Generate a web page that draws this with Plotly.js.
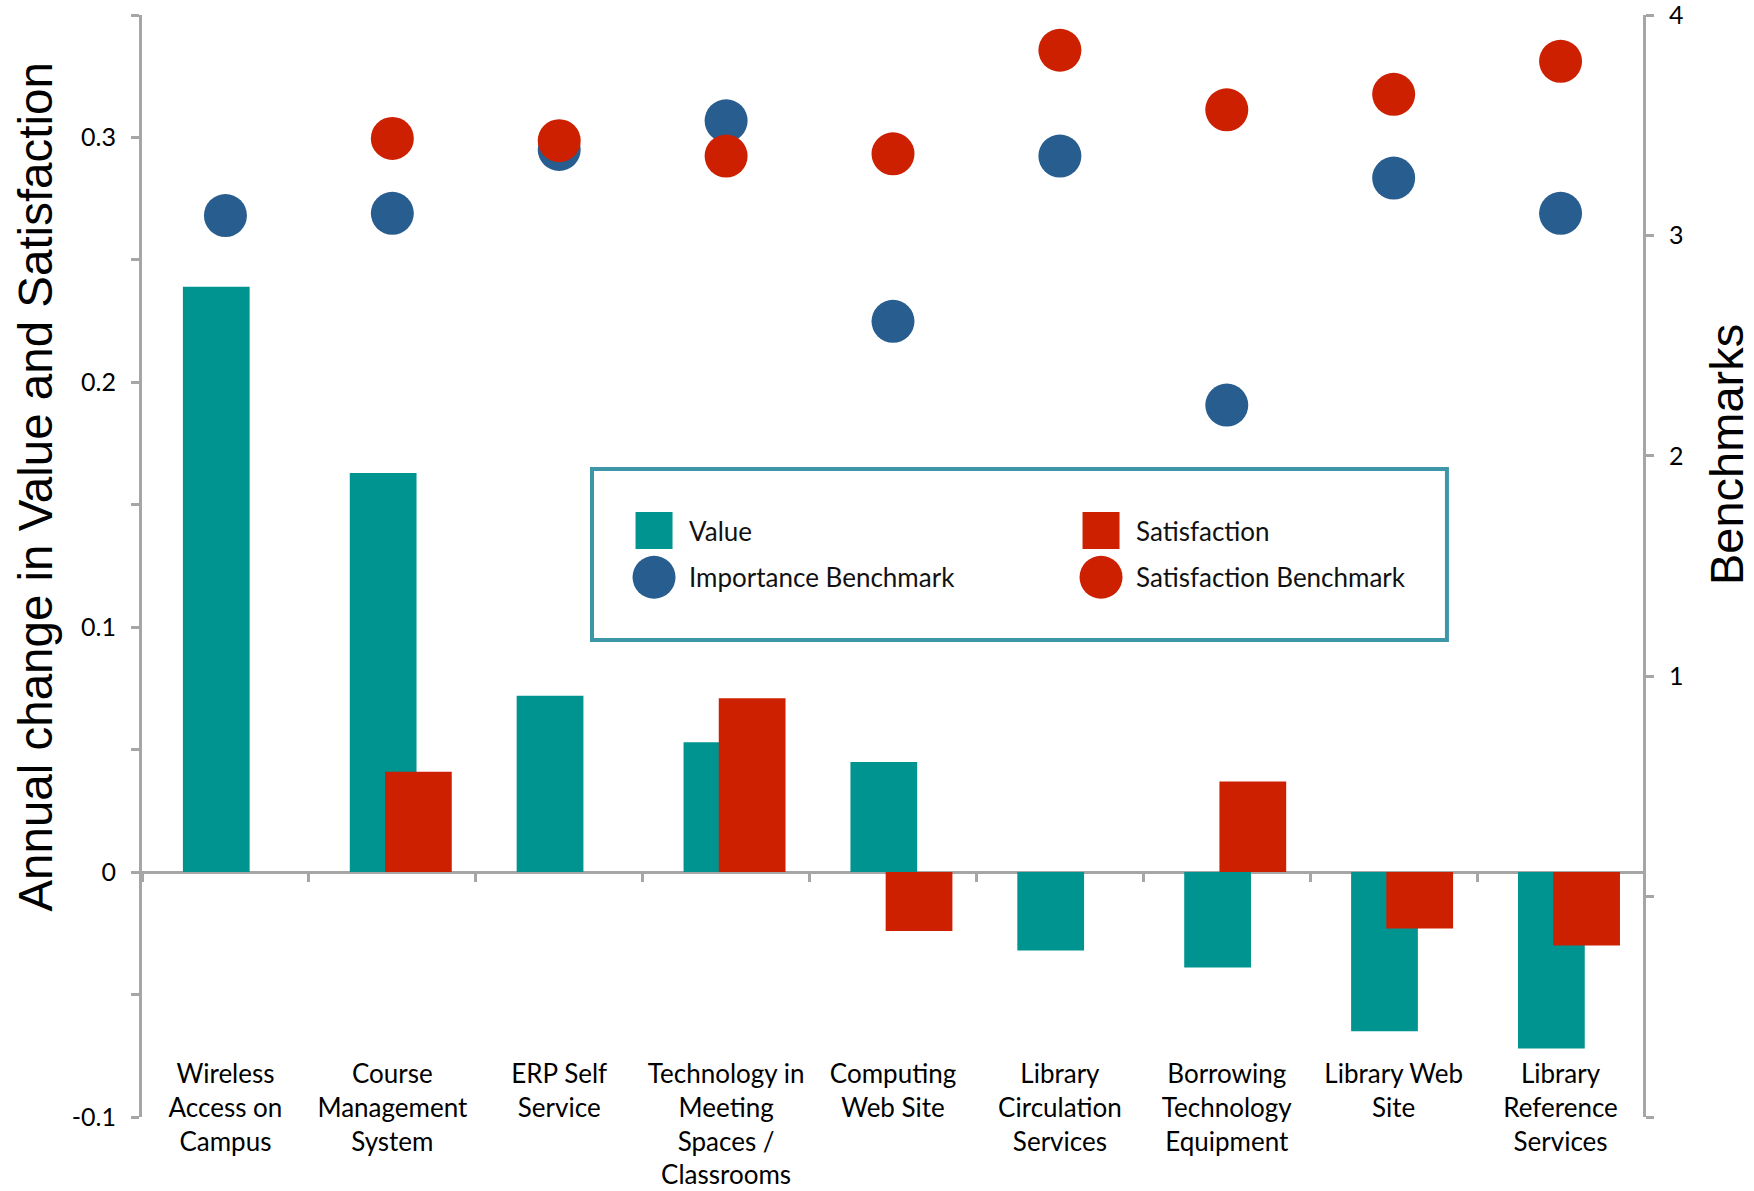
<!DOCTYPE html>
<html>
<head>
<meta charset="utf-8">
<script src="https://cdn.plot.ly/plotly-3.0.1.min.js"></script>
<style>
  html, body { margin: 0; padding: 0; background: #ffffff; }
  #chart { width: 1754px; height: 1191px; }
</style>
</head>
<body>
<div id="chart"></div>
<script>
// ---- data ----
var categories = [
  "Wireless Access on Campus",
  "Course Management System",
  "ERP Self Service",
  "Technology in Meeting Spaces / Classrooms",
  "Computing Web Site",
  "Library Circulation Services",
  "Borrowing Technology Equipment",
  "Library Web Site",
  "Library Reference Services"
];
var tickLabels = [
  "Wireless<br>Access on<br>Campus",
  "Course<br>Management<br>System",
  "ERP Self<br>Service",
  "Technology in<br>Meeting<br>Spaces /<br>Classrooms",
  "Computing<br>Web Site",
  "Library<br>Circulation<br>Services",
  "Borrowing<br>Technology<br>Equipment",
  "Library Web<br>Site",
  "Library<br>Reference<br>Services"
];
var valueChange        = [0.239, 0.163, 0.072, 0.053, 0.045, -0.032, -0.039, -0.065, -0.072];
var satisfactionChange = [null, 0.041, null, 0.071, -0.024, null, 0.037, -0.023, -0.030];
var importanceBenchmark   = [3.09, 3.10, 3.39, 3.52, 2.61, 3.36, 2.23, 3.26, 3.10];
var satisfactionBenchmark = [null, 3.44, 3.43, 3.36, 3.37, 3.84, 3.57, 3.64, 3.79];
var leftTicks  = [-0.1, -0.05, 0, 0.05, 0.1, 0.15, 0.2, 0.25, 0.3, 0.35];
var leftLabels = ["-0.1", "", "0", "", "0.1", "", "0.2", "", "0.3", ""];
var rightTicks  = [-1, 0, 1, 2, 3, 4];
var rightLabels = ["", "", "1", "2", "3", "4"];

// ---- styles ----
var TEAL = "#009490", RED = "#cd2000", BLUE = "#285d8f", AXIS = "#a6a6a6";
var tickFont = {family: "Lato, 'Open Sans', sans-serif", size: 25, color: "#000000"};

var traces = [
  {type: "bar", name: "Value", x: categories, y: valueChange,
   xaxis: "x", yaxis: "y", width: 0.40, offset: -0.255,
   marker: {color: TEAL}, legend: "legend", legendgroup: "g1", hoverinfo: "x+y"},
  {type: "bar", name: "Satisfaction", x: categories, y: satisfactionChange,
   xaxis: "x", yaxis: "y", width: 0.40, offset: -0.044,
   marker: {color: RED}, legend: "legend2", legendgroup: "g2", hoverinfo: "x+y"},
  {type: "scatter", mode: "markers", name: "Importance Benchmark", x: categories, y: importanceBenchmark,
   xaxis: "x2", yaxis: "y2", marker: {color: BLUE, size: 43},
   legend: "legend", legendgroup: "g3", cliponaxis: false},
  {type: "scatter", mode: "markers", name: "Satisfaction Benchmark", x: categories, y: satisfactionBenchmark,
   xaxis: "x2", yaxis: "y2", marker: {color: RED, size: 43},
   legend: "legend2", legendgroup: "g4", cliponaxis: false}
];

var legendFont = {family: "Lato, 'Open Sans', sans-serif", size: 26, color: "#111111"};

var layout = {
  width: 1754, height: 1191,
  margin: {l: 142, r: 110, t: 15, b: 74},
  paper_bgcolor: "#ffffff", plot_bgcolor: "rgba(0,0,0,0)",
  barmode: "overlay",
  showlegend: true,
  xaxis: {
    type: "category", range: [-0.5, 8.5], anchor: "free", position: 0.0554,
    tickvals: categories, ticktext: tickLabels, ticks: "", showline: false,
    showgrid: false, zeroline: false, tickfont: {family: "Lato, 'Open Sans', sans-serif", size: 26, color: "#000000"}
  },
  xaxis2: {
    type: "category", range: [-0.5, 8.5], overlaying: "x", anchor: "free", position: 0.1 / 0.45,
    side: "bottom", tickson: "boundaries", ticks: "outside", ticklen: 9, tickwidth: 3, tickcolor: AXIS,
    showticklabels: false, showline: false, showgrid: false, zeroline: false
  },
  yaxis: {
    range: [-0.1, 0.35], tickvals: leftTicks, ticktext: leftLabels, anchor: "x",
    ticks: "outside", ticklen: 8, tickwidth: 3, tickcolor: AXIS,
    showline: true, linecolor: AXIS, linewidth: 3, mirror: false,
    zeroline: true, zerolinecolor: AXIS, zerolinewidth: 3, showgrid: false,
    tickfont: tickFont, ticklabelstandoff: 10, ticklabeloverflow: "allow"
  },
  yaxis2: {
    range: [-1, 4], tickvals: rightTicks, ticktext: rightLabels, overlaying: "y", side: "right",
    anchor: "free", position: 1,
    ticks: "outside", ticklen: 8, tickwidth: 3, tickcolor: AXIS,
    showline: true, linecolor: AXIS, linewidth: 3,
    zeroline: false, showgrid: false, tickfont: tickFont, ticklabelstandoff: 10,
    ticklabeloverflow: "allow"
  },
  legend: {
    x: 0.3176, y: 0.5535, xanchor: "left", yanchor: "top", orientation: "v",
    bgcolor: "rgba(0,0,0,0)", borderwidth: 0, font: legendFont, tracegroupgap: 10, itemwidth: 60
  },
  legend2: {
    x: 0.6152, y: 0.5535, xanchor: "left", yanchor: "top", orientation: "v",
    bgcolor: "rgba(0,0,0,0)", borderwidth: 0, font: legendFont, tracegroupgap: 10, itemwidth: 60
  },
  shapes: [
    {type: "rect", xref: "paper", yref: "paper", x0: 0.2996, x1: 0.8688, y0: 0.4328, y1: 0.588,
     line: {color: "#3e97a9", width: 4}, fillcolor: "#ffffff", layer: "below"}
  ],
  annotations: [
    {text: "Annual change in Value and Satisfaction", xref: "paper", yref: "paper",
     x: -0.0706, y: 0.572, xanchor: "center", yanchor: "middle", textangle: -90, showarrow: false,
     font: {family: "'Liberation Sans', Arial, sans-serif", size: 47.5, color: "#000000"}},
    {text: "Benchmarks", xref: "paper", yref: "paper",
     x: 1.0546, y: 0.6007, xanchor: "center", yanchor: "middle", textangle: -90, showarrow: false,
     font: {family: "'Liberation Sans', Arial, sans-serif", size: 47, color: "#000000"}}
  ]
};

function enlargeLegendSymbols(gd) {
  var paths = gd.querySelectorAll(".legendpoints path");
  paths.forEach(function (p) {
    var bb;
    try { bb = p.getBBox(); } catch (e) { return; }
    if (!bb || bb.width <= 0) return;
    var isPoint = (p.getAttribute("class") || "").indexOf("scatterpts") >= 0;
    var target = isPoint ? 43 : 37;
    var s = target / bb.width;
    var t = p.getAttribute("transform") || "";
    p.setAttribute("transform", t + " scale(" + s + ")");
  });
}

Plotly.newPlot("chart", traces, layout, {displayModeBar: false, staticPlot: true})
  .then(function (gd) { enlargeLegendSymbols(gd); });
</script>
</body>
</html>
